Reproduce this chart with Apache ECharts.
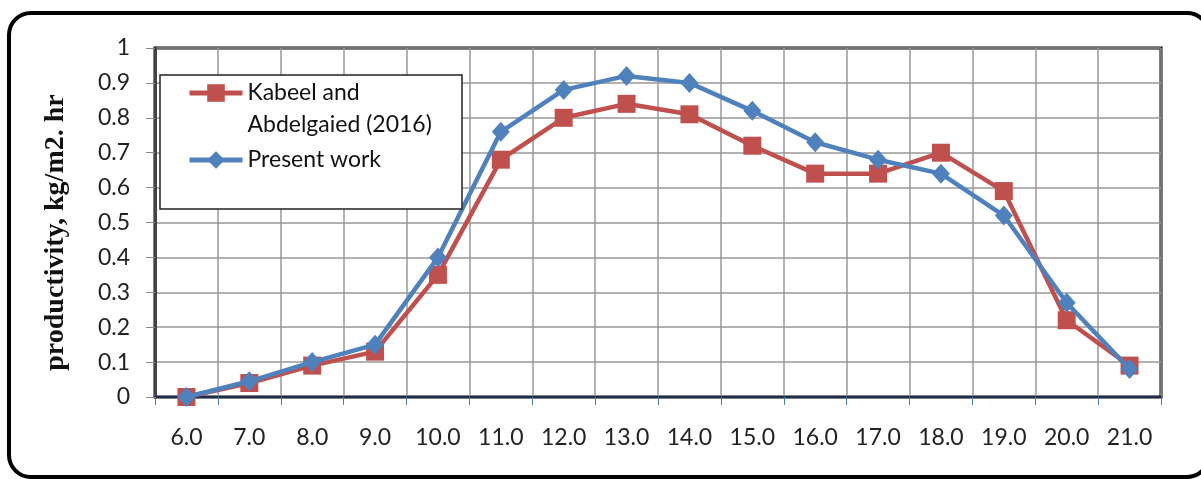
<!DOCTYPE html>
<html>
<head>
<meta charset="utf-8">
<script src="https://cdn.jsdelivr.net/npm/echarts@6/dist/echarts.min.js"></script>
<style>
html,body{margin:0;padding:0;background:#fff;}
#c{width:1201px;height:479px;}
</style>
</head>
<body>
<div id="c"></div>
<script>
var categories = ["6.0","7.0","8.0","9.0","10.0","11.0","12.0","13.0","14.0","15.0","16.0","17.0","18.0","19.0","20.0","21.0"];
var kabeelName = "Kabeel and\nAbdelgaied (2016)";
var kabeel = [0, 0.04, 0.09, 0.13, 0.35, 0.68, 0.80, 0.84, 0.81, 0.72, 0.64, 0.64, 0.70, 0.59, 0.22, 0.09];
var presentName = "Present work";
var present = [0, 0.045, 0.10, 0.15, 0.40, 0.76, 0.88, 0.92, 0.90, 0.82, 0.73, 0.68, 0.64, 0.52, 0.27, 0.08];
var yTitle = "productivity, kg/m2. hr";

var chart = echarts.init(document.getElementById('c'), null, {renderer:'canvas'});
var font = "Lato, 'Open Sans', sans-serif";
chart.setOption({
  animation: false,
  backgroundColor: '#fff',
  graphic: [
    {type:'rect', shape:{x:9, y:13, width:1200, height:464, r:22}, style:{fill:'none', stroke:'#000', lineWidth:4}, z:0},
    {type:'rect', shape:{x:160, y:75, width:302, height:134}, style:{fill:'#fff', stroke:'#222', lineWidth:1.5}, z:50}
  ],
  grid: {left:155, right:40, top:48, bottom:82, show:true, borderColor:'#000', borderWidth:3, backgroundColor:'#fff'},
  legend: {
    orient:'vertical', left:182, top:40, z:60,
    itemWidth:53, itemHeight:22, itemGap:3,
    lineStyle:{width:5},
    textStyle:{fontFamily:font, fontSize:23, color:'#111', lineHeight:32},
    formatter:function(n){ return n.indexOf('\n') >= 0 ? '\n' + n : n; },
    data:[kabeelName, presentName]
  },
  xAxis: {
    type:'category', data:categories, boundaryGap:true,
    axisLine:{lineStyle:{color:'#1f2d4a', width:2}},
    axisTick:{show:true, length:8, lineStyle:{color:'#4a7ebb', width:1}},
    axisLabel:{fontFamily:font, fontSize:23, color:'#222', margin:29},
    splitLine:{show:true, lineStyle:{color:'#999', width:1.5}}
  },
  yAxis: {
    type:'value', min:0, max:1, interval:0.1,
    name: yTitle, nameLocation:'middle', nameGap:85, nameRotate:90,
    nameTextStyle:{fontFamily:"'Liberation Serif', serif", fontWeight:'bold', fontSize:28, color:'#111', padding:[0,20,0,0]},
    axisLine:{show:true, lineStyle:{color:'#444', width:3}},
    axisTick:{show:true, length:9, lineStyle:{color:'#888', width:1}},
    axisLabel:{fontFamily:font, fontSize:23, color:'#222', margin:25},
    splitLine:{show:true, lineStyle:{color:'#999', width:1.5}}
  },
  series: [
    {name:kabeelName, type:'line', data:kabeel, symbol:'rect', symbolSize:18,
     lineStyle:{color:'#C0504D', width:4.5}, itemStyle:{color:'#C0504D'}, z:3},
    {name:presentName, type:'line', data:present, symbol:'diamond', symbolSize:[18,20],
     lineStyle:{color:'#4F81BD', width:4.5}, itemStyle:{color:'#4F81BD'}, z:4}
  ]
});
</script>
</body>
</html>
